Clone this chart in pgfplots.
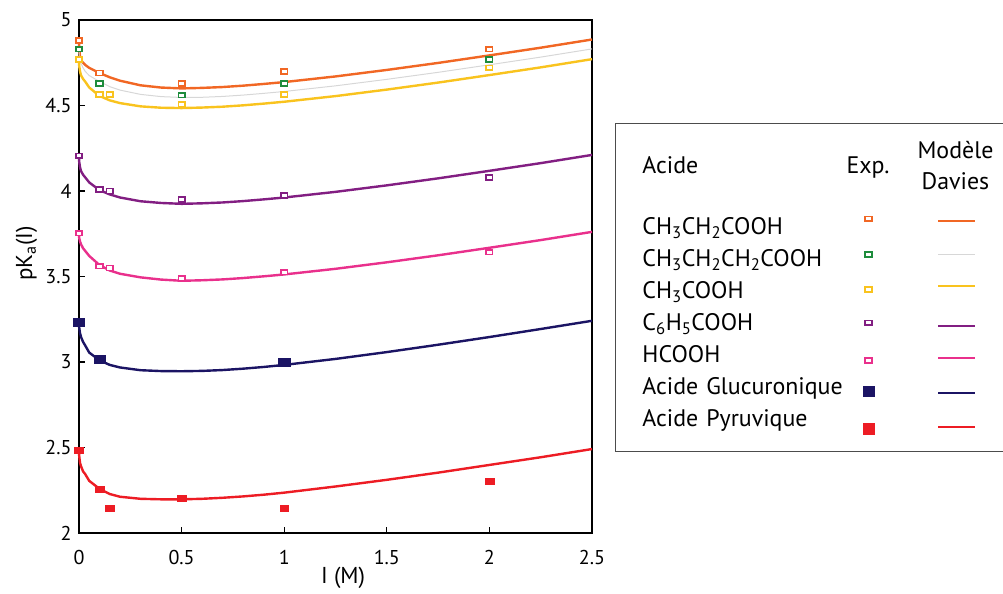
\documentclass[border=0pt]{standalone}
\usepackage{fontspec}
\setmainfont{PT Sans}
\usepackage{pgfplots}
\pgfplotsset{compat=1.18}
\usepackage{pgfplotstable}

\definecolor{cOr}{RGB}{241,103,36}
\definecolor{cGr}{RGB}{30,140,60}
\definecolor{cGy}{RGB}{215,215,215}
\definecolor{cYe}{RGB}{249,195,30}
\definecolor{cPu}{RGB}{130,30,130}
\definecolor{cPk}{RGB}{233,48,140}
\definecolor{cNv}{RGB}{27,20,100}
\definecolor{cRd}{RGB}{237,28,36}

% Davies model curves
\pgfplotstableread{
I     a     b     c     d     e     f     g
0     4.875 4.820 4.760 4.200 3.750 3.230 2.480
0.001 4.830 4.790 4.731 4.171 3.725 3.201 2.451
0.005 4.785 4.760 4.699 4.139 3.705 3.169 2.410
0.01  4.765 4.745 4.676 4.116 3.688 3.146 2.390
0.02  4.750 4.720 4.655 4.095 3.665 3.117 2.360
0.03  4.738 4.700 4.640 4.080 3.650 3.097 2.345
0.05  4.720 4.675 4.605 4.050 3.620 3.055 2.305
0.1   4.690 4.640 4.556 4.005 3.567 3.010 2.258
0.15  4.665 4.610 4.530 3.980 3.535 2.983 2.228
0.2   4.645 4.590 4.514 3.962 3.516 2.968 2.212
0.3   4.618 4.565 4.495 3.940 3.495 2.952 2.200
0.4   4.605 4.552 4.487 3.930 3.482 2.947 2.197
0.5   4.600 4.547 4.485 3.925 3.475 2.946 2.197
0.6   4.603 4.548 4.488 3.928 3.478 2.948 2.200
0.7   4.608 4.553 4.493 3.933 3.483 2.953 2.206
0.8   4.616 4.561 4.501 3.941 3.491 2.961 2.214
0.9   4.626 4.571 4.511 3.951 3.501 2.971 2.224
1.0   4.637 4.582 4.522 3.962 3.512 2.983 2.236
1.25  4.670 4.615 4.555 3.995 3.545 3.018 2.272
1.5   4.708 4.653 4.593 4.033 3.583 3.058 2.311
1.75  4.749 4.694 4.634 4.074 3.624 3.101 2.353
2.0   4.793 4.738 4.678 4.118 3.668 3.146 2.398
2.25  4.838 4.783 4.723 4.163 3.713 3.193 2.443
2.5   4.886 4.831 4.771 4.211 3.761 3.241 2.491
}\davies

\pgfplotsset{
  openmk/.style={only marks, mark=square*, mark size=2.4bp,
    mark options={fill=white, draw=#1, line width=1.7bp, xscale=1.35}, forget plot},
  curve/.style={#1, line width=2.4bp, forget plot},
}

\begin{document}
\begin{tikzpicture}
\useasboundingbox (0,0) rectangle (1003bp,-594bp);
\begin{axis}[
  at={(79bp,-533bp)}, anchor=south west,
  scale only axis, width=513bp, height=513bp,
  xmin=0, xmax=2.5, ymin=2, ymax=5,
  xtick={0,0.5,1,1.5,2,2.5}, ytick={2,2.5,3,3.5,4,4.5,5},
  tick pos=left, tick align=inside, major tick length=6bp,
  every tick/.style={black, line width=1.2bp},
  axis line style={line width=1.6bp},
  clip=false,
  /pgf/number format/assume math mode=true,
  tick label style={font=\fontsize{20bp}{23bp}\selectfont},
  yticklabel style={xshift=-4bp},
  xticklabel style={yshift=-14bp},
  xlabel={I (M)}, ylabel={pK\textsubscript{a}(I)},
  label style={font=\fontsize{23bp}{27bp}\selectfont},
  xlabel style={at={(axis description cs:0.515,0)}, anchor=center, yshift=-45bp},
  ylabel style={at={(axis description cs:-0.1023,0.545)}, anchor=center},
  legend cell align=left,
  legend plot pos=right,
  legend style={
    at={(1.0448,0.7992)}, anchor=north west,
    draw=black!70, line width=1bp, fill=white,
    inner xsep=27bp, inner ysep=0bp,
    column sep=0bp, row sep=0bp,
    font=\fontsize{23.9bp}{28bp}\selectfont,
    nodes={inner sep=0bp, text height=16.7bp, text depth=0bp},
  },
]
% model curves
\addplot[curve=cOr] table[x=I,y=a]{\davies};
\addplot[cGy, line width=1bp, forget plot] table[x=I,y=b]{\davies};
\addplot[curve=cYe] table[x=I,y=c]{\davies};
\addplot[curve=cPu] table[x=I,y=d]{\davies};
\addplot[curve=cPk] table[x=I,y=e]{\davies};
\addplot[curve=cNv] table[x=I,y=f]{\davies};
\addplot[curve=cRd] table[x=I,y=g]{\davies};

% experimental points
\addplot[openmk=cOr] coordinates {(0,4.88) (0.1,4.69) (0.5,4.63) (1,4.70) (2,4.83)};
\addplot[openmk=cGr] coordinates {(0,4.83) (0.1,4.63) (0.5,4.56) (1,4.63) (2,4.77)};
\addplot[openmk=cYe] coordinates {(0,4.77) (0.1,4.565) (0.15,4.565) (0.5,4.505) (1,4.565) (2,4.72)};
\addplot[openmk=cPu] coordinates {(0,4.205) (0.1,4.01) (0.15,4.0) (0.5,3.95) (1,3.975) (2,4.078)};
\addplot[openmk=cPk] coordinates {(0,3.753) (0.1,3.561) (0.15,3.55) (0.5,3.487) (1,3.525) (2,3.643)};
\addplot[only marks, mark=square*, mark size=4bp, mark options={fill=cNv, draw=cNv, line width=0.3bp, xscale=1.4}, forget plot]
  coordinates {(0,3.234) (0.1,3.019) (1,3.002)};
\addplot[only marks, mark=square*, mark size=3bp, mark options={fill=cRd, draw=cRd, line width=0.3bp, xscale=1.45}, forget plot]
  coordinates {(0,2.483) (0.1,2.259) (0.15,2.148) (0.5,2.205) (1,2.148) (2,2.302)};

% legend
\addlegendimage{legend image code/.code={
  \path[draw=none,fill=none] (0bp,-44.7bp) rectangle (137bp,42bp);
  \node[anchor=center, text width=, draw=none, fill=none] at (25.5bp,0bp) {Exp.};
  \node[anchor=center, text width=, draw=none, fill=none] at (113bp,15bp) {Modèle};
  \node[anchor=center, text width=, draw=none, fill=none] at (113bp,-16bp) {Davies};
}}
\addlegendentry[text width=200bp]{Acide}

\addlegendimage{legend image code/.code={
  \path[draw=none,fill=none] (0bp,-16bp) rectangle (137bp,16bp);
  \draw[cOr, line width=2bp] (96bp,5bp) -- (133bp,5bp);
  \draw plot[only marks, mark=square*, mark size=2.4bp, mark options={fill=white,draw=cOr,line width=1.7bp,xscale=1.35}] coordinates {(26bp,7.4bp)};
}}
\addlegendentry[text width=200bp]{\mbox{CH\textsubscript{3}CH\textsubscript{2}COOH}}

\addlegendimage{legend image code/.code={
  \path[draw=none,fill=none] (0bp,-16bp) rectangle (137bp,16bp);
  \draw[cGy, line width=1bp] (96bp,3.7bp) -- (133bp,3.7bp);
  \draw plot[only marks, mark=square*, mark size=2.4bp, mark options={fill=white,draw=cGr,line width=1.7bp,xscale=1.35}] coordinates {(26bp,3.7bp)};
}}
\addlegendentry[text width=200bp]{\mbox{CH\textsubscript{3}CH\textsubscript{2}CH\textsubscript{2}COOH}}

\addlegendimage{legend image code/.code={
  \path[draw=none,fill=none] (0bp,-16bp) rectangle (137bp,16bp);
  \draw[cYe, line width=2bp] (96bp,4bp) -- (133bp,4bp);
  \draw plot[only marks, mark=square*, mark size=2.4bp, mark options={fill=white,draw=cYe,line width=1.7bp,xscale=1.35}] coordinates {(26bp,0.7bp)};
}}
\addlegendentry[text width=200bp]{\mbox{CH\textsubscript{3}COOH}}

\addlegendimage{legend image code/.code={
  \path[draw=none,fill=none] (0bp,-16bp) rectangle (137bp,16bp);
  \draw[cPu, line width=2bp] (96bp,-4bp) -- (133bp,-4bp);
  \draw plot[only marks, mark=square*, mark size=2.4bp, mark options={fill=white,draw=cPu,line width=1.7bp,xscale=1.35}] coordinates {(26bp,-0.6bp)};
}}
\addlegendentry[text width=200bp]{\mbox{C\textsubscript{6}H\textsubscript{5}COOH}}

\addlegendimage{legend image code/.code={
  \path[draw=none,fill=none] (0bp,-16bp) rectangle (137bp,16bp);
  \draw[cPk, line width=2bp] (96bp,-3.6bp) -- (133bp,-3.6bp);
  \draw plot[only marks, mark=square*, mark size=2.4bp, mark options={fill=white,draw=cPk,line width=1.7bp,xscale=1.35}] coordinates {(26bp,-6.3bp)};
}}
\addlegendentry[text width=200bp]{HCOOH}

\addlegendimage{legend image code/.code={
  \path[draw=none,fill=none] (0bp,-16bp) rectangle (137bp,16bp);
  \draw[cNv, line width=2bp] (96bp,-7bp) -- (133bp,-7bp);
  \draw plot[only marks, mark=square*, mark size=5bp, mark options={fill=cNv,draw=cNv,line width=0.3bp,xscale=1.1}] coordinates {(26bp,-5.3bp)};
}}
\addlegendentry[text width=200bp]{\mbox{Acide Glucuronique}}

\addlegendimage{legend image code/.code={
  \path[draw=none,fill=none] (0bp,-33.3bp) rectangle (137bp,16bp);
  \draw[cRd, line width=2bp] (96bp,-9bp) -- (133bp,-9bp);
  \draw plot[only marks, mark=square*, mark size=5.4bp, mark options={fill=cRd,draw=cRd,line width=0.3bp,xscale=1.03}] coordinates {(26bp,-10.3bp)};
}}
\addlegendentry[text width=200bp]{\mbox{Acide Pyruvique}}
\end{axis}
\end{tikzpicture}
\end{document}
